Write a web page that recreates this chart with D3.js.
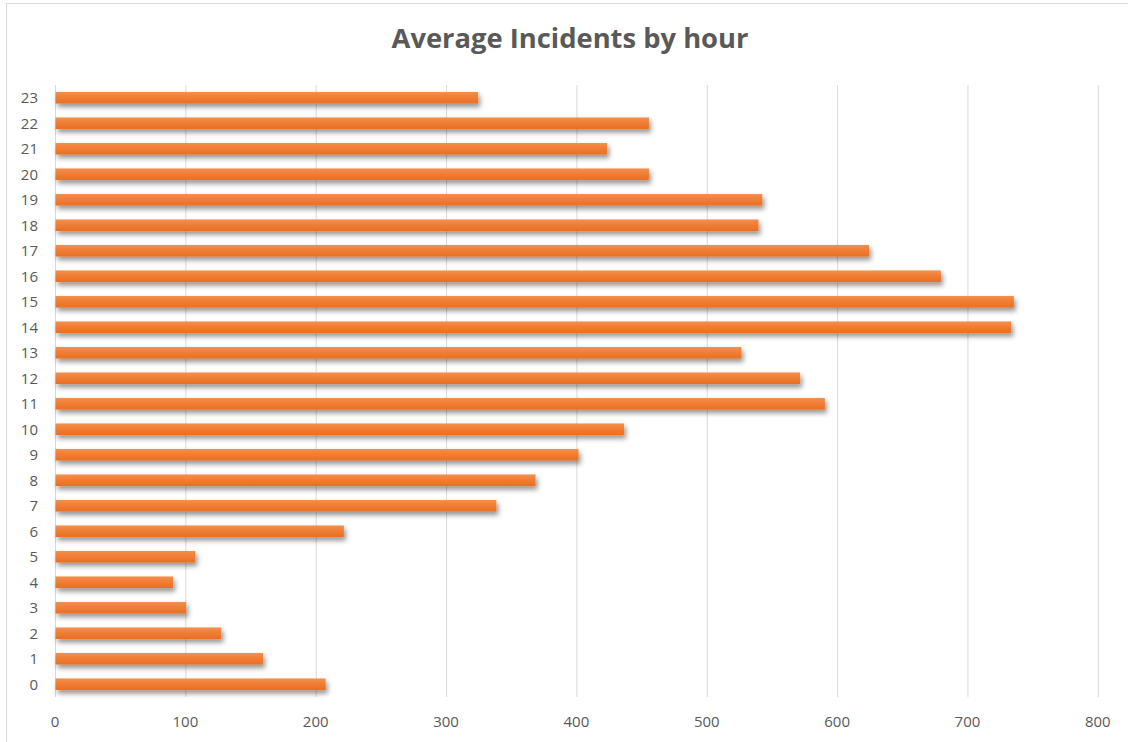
<!DOCTYPE html>
<html>
<head>
<meta charset="utf-8">
<script src="https://cdn.jsdelivr.net/npm/d3@7"></script>
<style>
  html, body { margin: 0; padding: 0; background: #ffffff; }
  svg { display: block; }
</style>
</head>
<body>
<svg id="chart" width="1128" height="742"></svg>
<script>
// Hour of day (0-23) and the average number of incidents in that hour
const hours = [0, 1, 2, 3, 4, 5, 6, 7, 8, 9, 10, 11, 12, 13, 14, 15, 16, 17, 18, 19, 20, 21, 22, 23];
const avgIncidents = [208, 160, 128, 101, 91, 108, 222, 339, 369, 402, 437, 591, 572, 527, 734, 736, 680, 625, 540, 543, 456, 424, 456, 325];
const xTicks = [0, 100, 200, 300, 400, 500, 600, 700, 800];
const chartTitle = "Average Incidents by hour";

const W = 1128, H = 742;
const plot = { left: 54.5, right: 1097.3, top: 85, bottom: 697 };
const textColor = "#595959";
const gridColor = "#d9d9d9";

const svg = d3.select("#chart");
const defs = svg.append("defs");

// Soft orange gradient for the bars
const grad = defs.append("linearGradient")
  .attr("id", "barFill").attr("x1", 0).attr("y1", 0).attr("x2", 0).attr("y2", 1);
grad.append("stop").attr("offset", "0%").attr("stop-color", "#F3904F");
grad.append("stop").attr("offset", "45%").attr("stop-color", "#F07E34");
grad.append("stop").attr("offset", "100%").attr("stop-color", "#E96F22");

// Drop shadow under each bar
const shadow = defs.append("filter")
  .attr("id", "barShadow").attr("x", "-5%").attr("y", "-80%").attr("width", "115%").attr("height", "300%");
shadow.append("feDropShadow")
  .attr("dx", 2).attr("dy", 3.5).attr("stdDeviation", 2.6)
  .attr("flood-color", "#000").attr("flood-opacity", 0.42);

// Chart frame
svg.append("rect")
  .attr("x", 6.5).attr("y", 3.5).attr("width", W + 10).attr("height", H + 10)
  .attr("fill", "#fff").attr("stroke", "#d9d9d9").attr("stroke-width", 1);

const x = d3.scaleLinear().domain([0, 800]).range([plot.left, plot.right]);
const y = d3.scaleBand()
  .domain(hours.slice().reverse())
  .range([plot.top, plot.bottom])
  .paddingInner(120 / 220)
  .paddingOuter(60 / 220);

// Vertical gridlines with value labels beneath
const xAxis = d3.axisBottom(x).tickValues(xTicks).tickSize(plot.bottom - plot.top).tickFormat(d3.format("d"));
const gx = svg.append("g")
  .attr("transform", `translate(0,${plot.top})`)
  .call(xAxis);
gx.select(".domain").remove();
gx.selectAll(".tick line")
  .attr("stroke", gridColor).attr("stroke-width", 1)
  .attr("transform", "translate(0.5,0)");
gx.selectAll(".tick text")
  .attr("y", plot.bottom - plot.top + 30)
  .attr("dy", 0)
  .attr("fill", textColor)
  .style("font-family", "'Open Sans', sans-serif")
  .style("font-size", "15px");

// Hour labels
const yAxis = d3.axisLeft(y).tickSize(0).tickPadding(0);
const gy = svg.append("g")
  .attr("transform", `translate(38,0)`)
  .call(yAxis);
gy.select(".domain").remove();
gy.selectAll(".tick text")
  .attr("fill", textColor)
  .attr("dy", "0.35em")
  .style("font-family", "'Open Sans', sans-serif")
  .style("font-size", "15px");

// Bars
const data = hours.map((h, i) => ({ hour: h, value: avgIncidents[i] }));
svg.append("g")
  .selectAll("rect")
  .data(data)
  .join("rect")
  .attr("x", x(0) + 1)
  .attr("y", d => y(d.hour))
  .attr("width", d => x(d.value) - x(0) - 1)
  .attr("height", y.bandwidth())
  .attr("fill", "url(#barFill)")
  .attr("filter", "url(#barShadow)");

// Title
const title = svg.append("text")
  .attr("x", 570).attr("y", 48)
  .attr("text-anchor", "middle")
  .attr("fill", textColor)
  .style("font-family", "'Open Sans', sans-serif")
  .style("font-weight", "700")
  .style("font-size", "26px")
  .text(chartTitle);
const tw = title.node().getComputedTextLength();
title.style("font-size", (26 * 357 / tw).toFixed(2) + "px");
</script>
</body>
</html>
